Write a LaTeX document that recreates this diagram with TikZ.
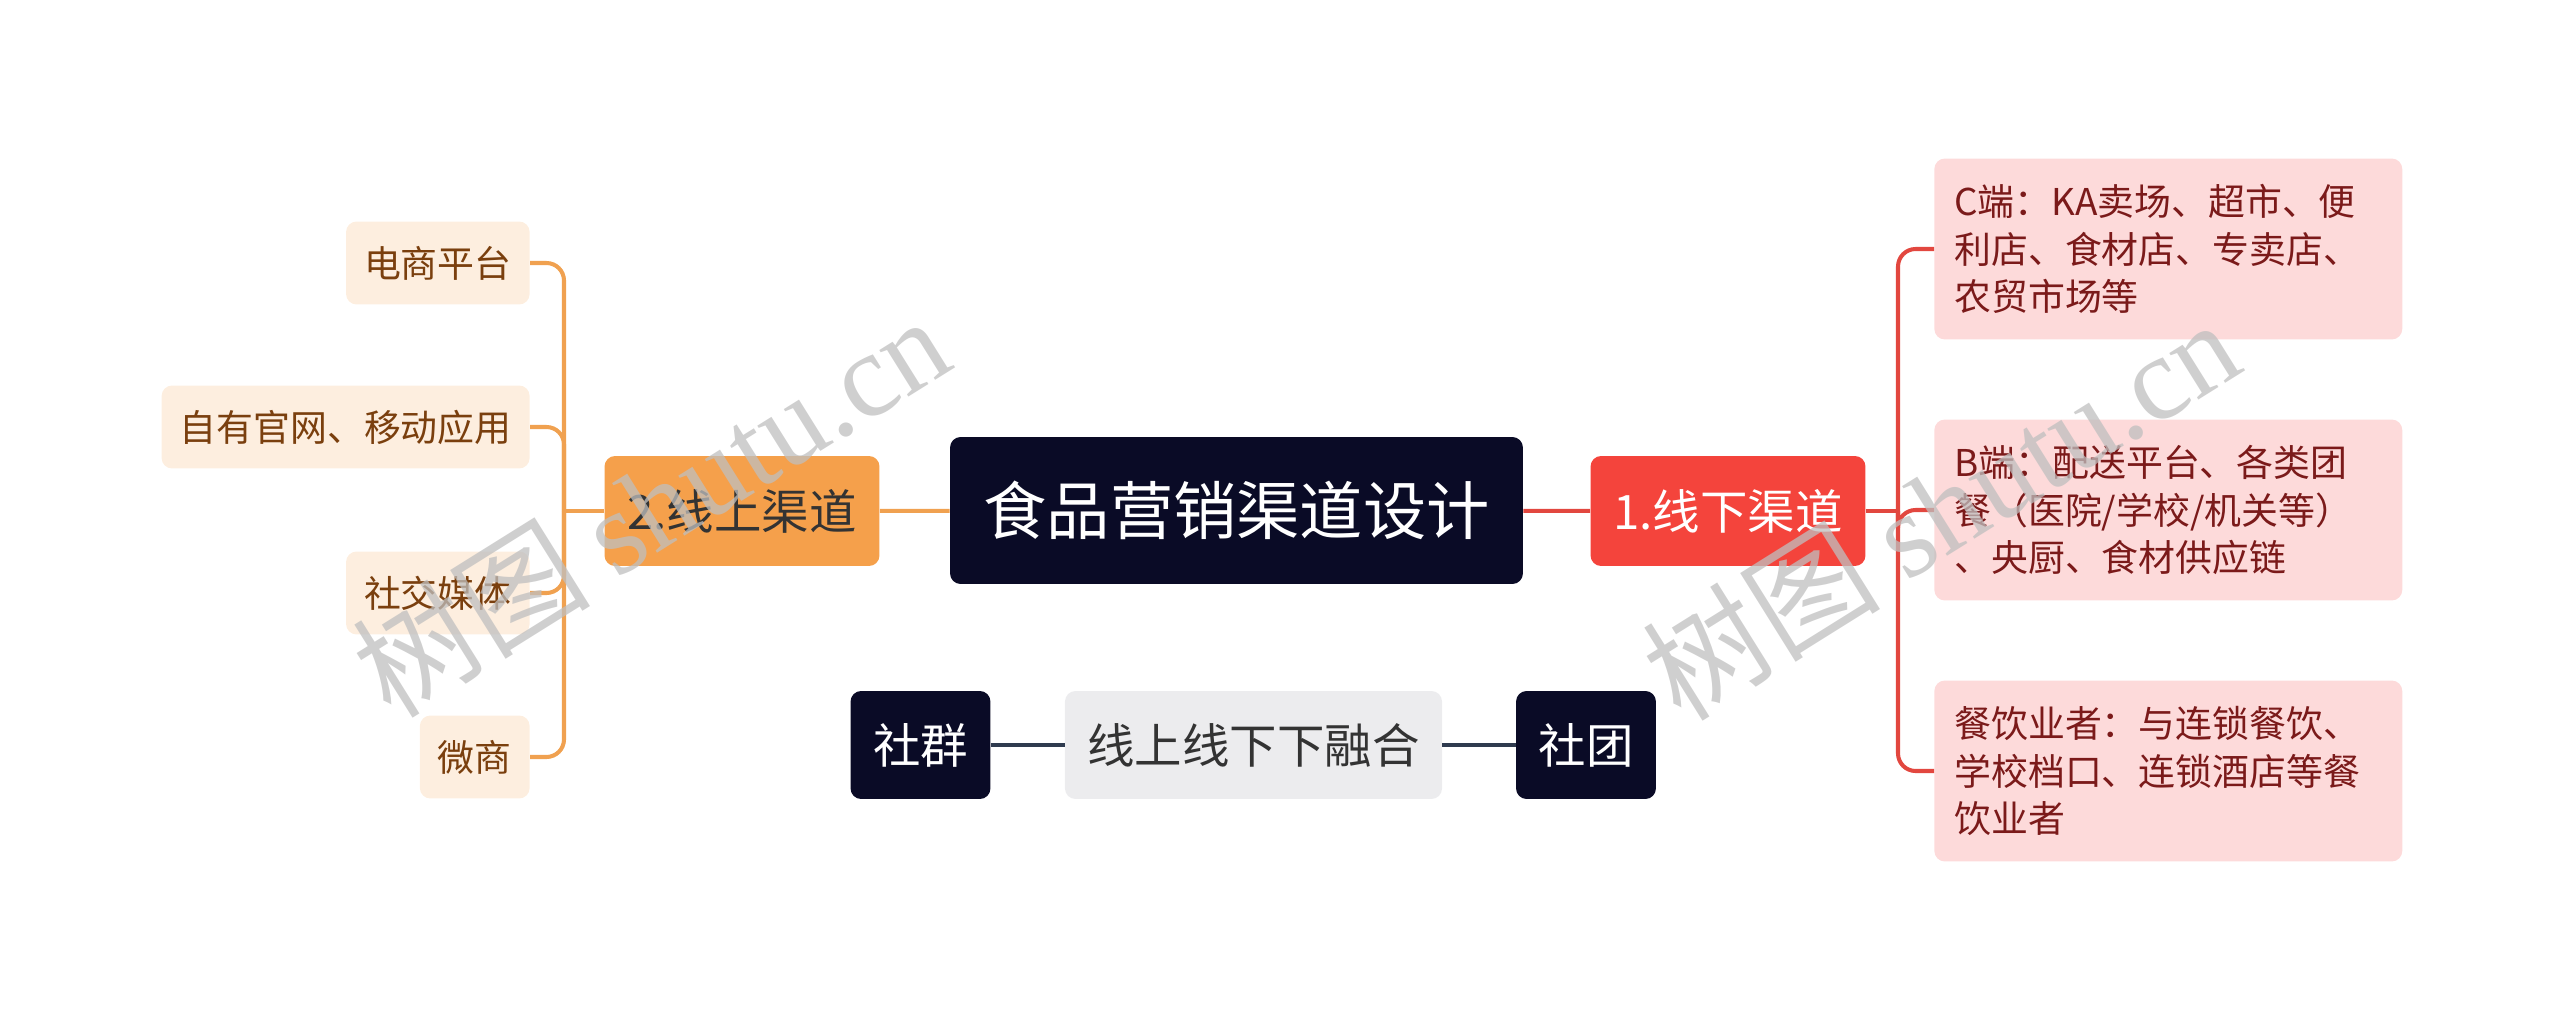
\documentclass[tikz,border=0pt]{standalone}
\usepackage{fontspec}
\setmainfont{Noto Sans CJK SC}
\newfontfamily\wmfont{Liberation Serif}
\usepackage{tikz}
\usetikzlibrary{shapes}
\definecolor{rootnavy}{HTML}{0A0B26}
\definecolor{onorange}{HTML}{F5A04B}
\definecolor{offred}{HTML}{F4443C}
\definecolor{onpeach}{HTML}{FDEEDF}
\definecolor{onbrown}{HTML}{7A3F0E}
\definecolor{offpink}{HTML}{FDDADA}
\definecolor{offmaroon}{HTML}{7B1A1A}
\definecolor{onwire}{HTML}{F0A150}
\definecolor{offwire}{HTML}{E2473F}
\definecolor{mixgray}{HTML}{ECECEE}
\definecolor{tiewire}{HTML}{2F3B4F}

\begin{document}
\begin{tikzpicture}[x=0.02cm, y=-0.02cm,
	box/.style={rectangle, rounded corners=6pt, inner ysep=0pt},
	rootbox/.style={box, fill=rootnavy, text=white, minimum width=11.46cm, minimum height=2.94cm, font=\fontsize{36}{40}\selectfont},
	mainbox/.style={box, minimum width=5.5cm, minimum height=2.2cm, font=\fontsize{27}{32}\selectfont},
	onleaf/.style={box, fill=onpeach, text=onbrown, inner xsep=0.36cm, minimum height=1.66cm, font=\fontsize{21}{27}\selectfont},
	offleaf/.style={box, fill=offpink, text=offmaroon, align=left, text width=8.56cm, inner xsep=0.4cm, minimum height=3.62cm, font=\fontsize{21}{27}\selectfont},
	tagbox/.style={box, inner xsep=0.45cm, minimum height=2.16cm, font=\fontsize{27}{32}\selectfont},
	onlink/.style={draw=onwire, line width=2.3pt, rounded corners=10pt},
	offlink/.style={draw=offwire, line width=2.3pt, rounded corners=10pt},
	tielink/.style={draw=tiewire, line width=2.2pt},
	wmark/.style={rotate=32, text=black!25, text opacity=0.75, font=\fontsize{68}{74}\selectfont}]
\useasboundingbox (0,0) rectangle (2560,1017);

\node[rootbox] (design) at (1236.5,510.5) {食品营销渠道设计};
\node[mainbox, fill=onorange, text=black!80] (online) at (742,511) {2.线上渠道};
\node[mainbox, fill=offred, text=white] (offline) at (1728,511) {1.线下渠道};

\node[onleaf, anchor=east] (ecom) at (530,263) {电商平台};
\node[onleaf, anchor=east] (site) at (530,427) {自有官网、移动应用};
\node[onleaf, anchor=east] (social) at (530,593) {社交媒体};
\node[onleaf, anchor=east] (wechat) at (530,757) {微商};

\node[offleaf, anchor=west] (cend) at (1934,249) {C端：KA卖场、超市、便\\利店、食材店、专卖店、\\农贸市场等};
\node[offleaf, anchor=west] (bend) at (1934,510) {B端：配送平台、各类团\\餐（医院/学校/机关等）\\、央厨、食材供应链};
\node[offleaf, anchor=west] (catering) at (1934,771) {餐饮业者：与连锁餐饮、\\学校档口、连锁酒店等餐\\饮业者};

\node[tagbox, fill=rootnavy, text=white] (group) at (920.5,745) {社群};
\node[tagbox, fill=mixgray, text=black!80] (merge) at (1253.5,745) {线上线下下融合};
\node[tagbox, fill=rootnavy, text=white] (club) at (1586,745) {社团};

\coordinate (onbus) at (564,511);
\coordinate (offbus) at (1898,511);

\draw[onlink] (design) -- (online);
\draw[offlink] (design) -- (offline);
\draw[onlink] (online.west) -- (onbus);
\draw[onlink] (onbus) |- (ecom.east);
\draw[onlink] (onbus) |- (site.east);
\draw[onlink] (onbus) |- (social.east);
\draw[onlink] (onbus) |- (wechat.east);
\draw[offlink] (offline.east) -- (offbus);
\draw[offlink] (offbus) |- (cend.west);
\draw[offlink] (offbus) |- (bend.west);
\draw[offlink] (offbus) |- (catering.west);
\draw[tielink] (group) -- (merge);
\draw[tielink] (merge) -- (club);

\node[wmark] (wmleft) at (650,505) {树图 {\wmfont shutu.cn}};
\node[wmark] (wmright) at (1940,508) {树图 {\wmfont shutu.cn}};
\end{tikzpicture}
\end{document}
